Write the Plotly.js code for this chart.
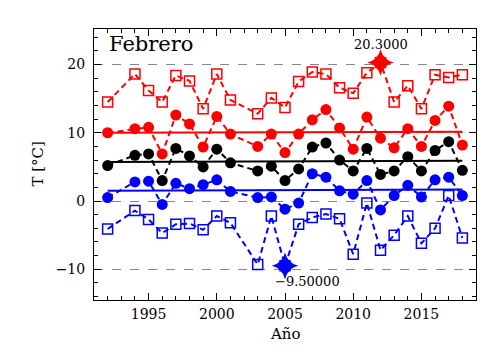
<!DOCTYPE html>
<html>
<head>
<meta charset="utf-8">
<script src="https://cdn.plot.ly/plotly-3.0.1.min.js"></script>
<style>html,body{margin:0;padding:0;background:#fff;}#chart{width:504px;height:360px;}</style>
</head>
<body>
<div id="chart"></div>
<script>
// Data (Febrero)
var years = [1992,1994,1995,1996,1997,1998,1999,2000,2001,2003,2004,2005,2006,2007,2008,2009,2010,2011,2012,2013,2014,2015,2016,2017,2018];
var tmaxAbs  = [14.5,18.6,16.2,14.5,18.4,17.6,13.5,18.6,14.8,12.8,15.1,13.7,17.5,18.9,18.6,16.6,15.8,18.8,20.3,14.5,16.9,13.5,18.5,18.1,18.5];
var tmaxMean = [10.0,10.6,10.8,6.9,12.6,11.3,7.9,12.4,9.8,8.0,9.8,7.1,9.8,11.9,13.4,10.7,7.6,12.3,9.2,7.8,10.6,8.0,11.8,13.9,8.2];
var tMean    = [5.2,6.7,6.9,3.0,7.7,6.6,5.0,7.6,5.6,4.4,5.1,3.0,4.7,7.9,8.5,6.0,4.4,7.7,3.9,4.4,6.5,4.4,7.4,8.7,4.5];
var tminMean = [0.5,2.8,2.9,-0.5,2.6,1.8,2.4,3.1,1.4,0.5,0.6,-1.2,-0.3,4.0,3.5,1.5,1.0,3.0,-1.3,0.8,2.3,0.6,3.1,3.5,0.8];
var tminAbs  = [-4.1,-1.4,-2.7,-4.7,-3.4,-3.3,-4.2,-2.2,-3.2,-9.3,-2.2,-9.5,-3.4,-2.4,-1.9,-2.6,-7.8,-0.3,-7.2,-5.0,-2.2,-6.2,-4.0,0.8,-5.4];
var trendYears = [1992, 2018];
var trendMax  = [10.0, 10.15];
var trendMean = [5.7, 5.9];
var trendMin  = [1.5, 1.7];
var monthName = "Febrero";
var xTitle = "Año";
var yTitle = "T [°C]";

var RED = "rgb(255,0,0)", BLUE = "rgb(0,0,255)", BLACK = "rgb(0,0,0)";
var DASH = "6px,4px";
var FONT = "DejaVu Serif";

var iMax = tmaxAbs.indexOf(Math.max.apply(null, tmaxAbs));
var iMin = tminAbs.indexOf(Math.min.apply(null, tminAbs));

function dashed(y, color, symbol, size, open) {
  return {
    x: years, y: y, type: "scatter", mode: "lines+markers",
    line: {color: color, width: 2, dash: DASH},
    marker: open ? {symbol: "square-open", size: size, color: color, line: {color: color, width: 1.5}}
                 : {symbol: symbol, size: size, color: color},
    hoverinfo: "skip", showlegend: false
  };
}
function trend(y, color) {
  return {x: trendYears, y: y, type: "scatter", mode: "lines",
    line: {color: color, width: 2}, showlegend: false, hoverinfo: "skip"};
}

var data = [
  dashed(tmaxAbs, RED, "square-open", 10, true),
  dashed(tmaxMean, RED, "circle", 11, false),
  dashed(tMean, BLACK, "circle", 11, false),
  dashed(tminMean, BLUE, "circle", 11, false),
  dashed(tminAbs, BLUE, "square-open", 10, true),
  trend(trendMax, RED),
  trend(trendMean, BLACK),
  trend(trendMin, BLUE),
  {x: [years[iMax]], y: [tmaxAbs[iMax]], type: "scatter", mode: "markers",
   marker: {symbol: "star-diamond", size: 19, color: RED}, showlegend: false},
  {x: [years[iMin]], y: [tminAbs[iMin]], type: "scatter", mode: "markers",
   marker: {symbol: "star-diamond", size: 19, color: BLUE}, showlegend: false}
];

var axisCommon = {
  showline: true, linecolor: "#000", linewidth: 1, mirror: "allticks",
  ticks: "inside", ticklen: 7, tickcolor: "#000", tickwidth: 1,
  zeroline: false,
  tickfont: {family: FONT, size: 14, color: "#000"}
};

var layout = {
  width: 504, height: 360,
  margin: {l: 94, r: 28, t: 29, b: 60},
  paper_bgcolor: "#fff", plot_bgcolor: "#fff",
  font: {family: FONT, color: "#000"},
  xaxis: Object.assign({}, axisCommon, {
    range: [1991, 2019], tickmode: "linear", tick0: 1995, dtick: 5,
    showgrid: false, ticklabelstandoff: 1,
    minor: {dtick: 1, ticks: "inside", ticklen: 4, tickcolor: "#000", showgrid: false}
  }),
  yaxis: Object.assign({}, axisCommon, {
    range: [-14.5, 25.2], tickmode: "linear", tick0: 0, dtick: 10,
    showgrid: true, gridcolor: "#888", griddash: "dash", gridwidth: 1,
    ticklabelstandoff: 5,
    minor: {dtick: 2, ticks: "inside", ticklen: 4, tickcolor: "#000", showgrid: false}
  }),
  annotations: [
    {text: monthName, xref: "paper", yref: "paper", x: 0.033, y: 0.945,
     xanchor: "left", yanchor: "middle", showarrow: false,
     font: {family: FONT, size: 21, color: "#000"}},
    {text: xTitle, xref: "paper", yref: "paper", x: 0.5, y: -0.125,
     xanchor: "center", yanchor: "middle", showarrow: false,
     font: {family: FONT, size: 15, color: "#000"}},
    {text: yTitle, xref: "paper", yref: "paper", x: -0.149, y: 0.5, textangle: -90,
     xanchor: "center", yanchor: "middle", showarrow: false,
     font: {family: FONT, size: 15, color: "#000"}},
    {text: tmaxAbs[iMax].toFixed(4), x: years[iMax], y: tmaxAbs[iMax], xref: "x", yref: "y",
     showarrow: false, yshift: 18, xanchor: "center", yanchor: "middle",
     font: {family: FONT, size: 13, color: "#000"}},
    {text: "\u2212" + Math.abs(tminAbs[iMin]).toFixed(5), x: years[iMin], y: tminAbs[iMin], xref: "x", yref: "y",
     showarrow: false, yshift: -16, xshift: -12, xanchor: "left", yanchor: "middle",
     font: {family: FONT, size: 13, color: "#000"}}
  ]
};

Plotly.newPlot("chart", data, layout, {staticPlot: true, displayModeBar: false});
</script>
</body>
</html>
